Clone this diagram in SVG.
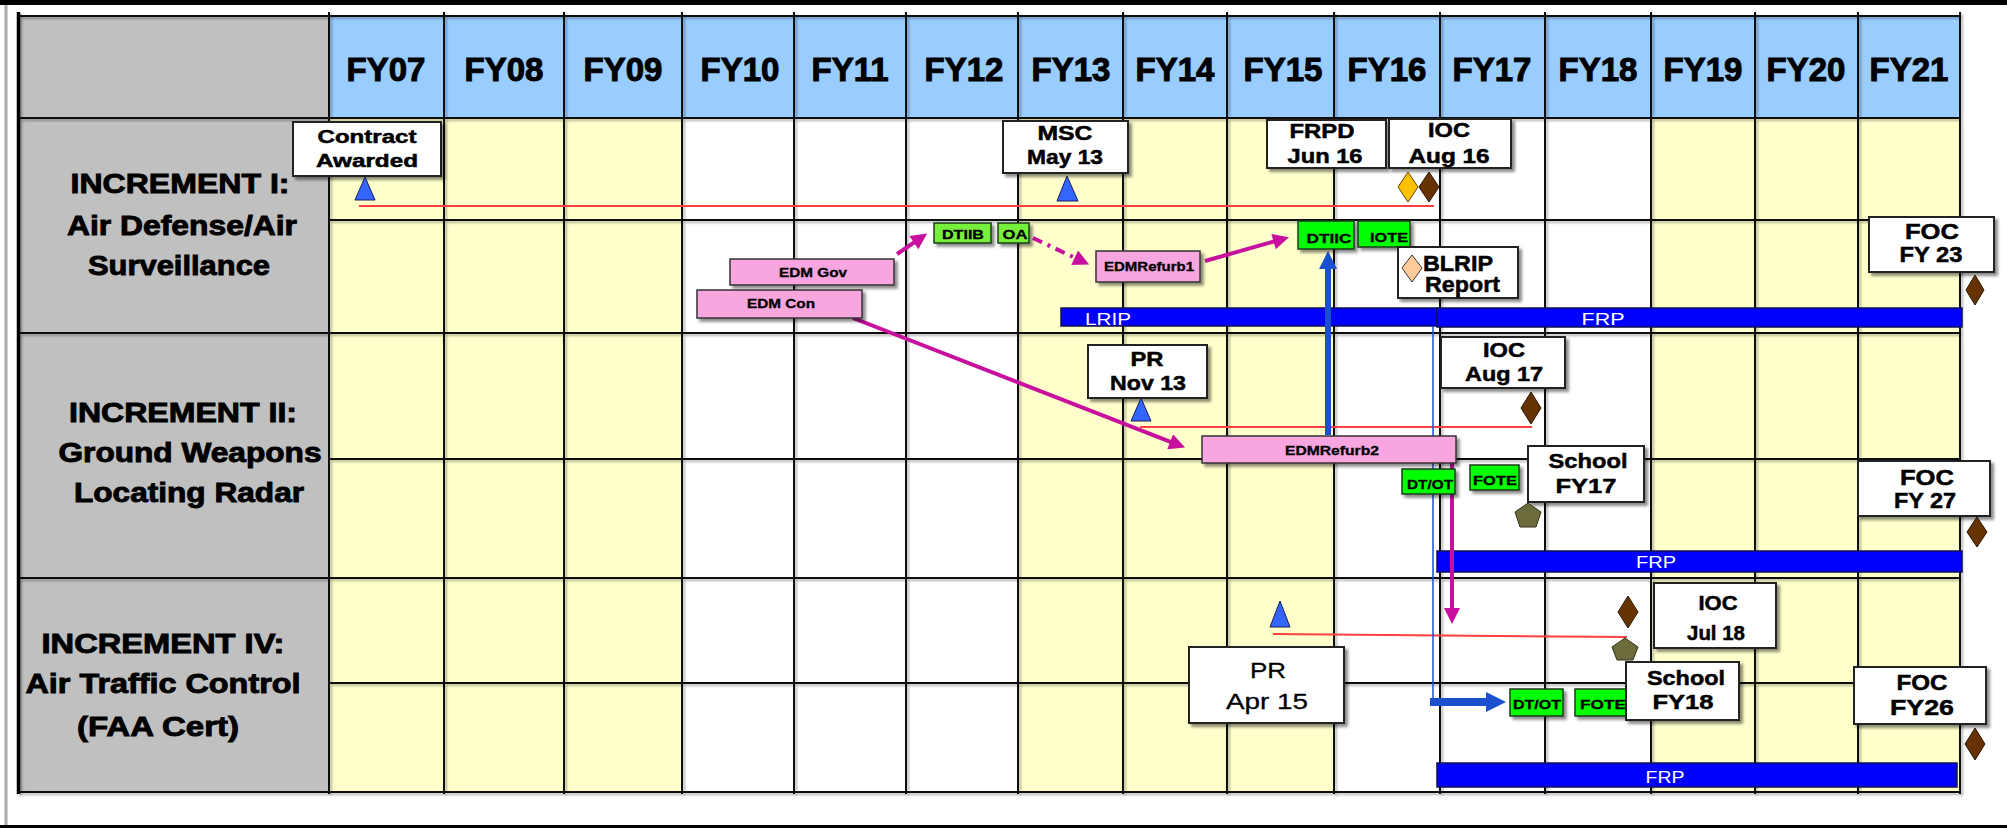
<svg xmlns="http://www.w3.org/2000/svg" width="2007" height="828" viewBox="0 0 2007 828">
  <style>
    text { font-family: "Liberation Sans", Arial, sans-serif; }
    .hdr { font-size: 33px; font-weight: bold; text-anchor: middle; fill: #000; stroke: #000; stroke-width: 1; }
    .inc { font-size: 27px; font-weight: bold; text-anchor: middle; fill: #000; stroke: #000; stroke-width: 0.9; }
    .ms { font-size: 20px; font-weight: bold; text-anchor: middle; fill: #000; stroke: #000; stroke-width: 0.5; }
    .msl { font-size: 22px; font-weight: bold; text-anchor: middle; fill: #000; stroke: #000; stroke-width: 0.5; }
    .msr { font-size: 22px; font-weight: normal; text-anchor: middle; fill: #000; stroke: #000; stroke-width: 0.3; }
    .act { font-size: 13px; font-weight: bold; text-anchor: middle; fill: #000; stroke: #000; stroke-width: 0.3; }
    .bartxt { font-size: 17px; text-anchor: middle; fill: #fff; }
    .box { fill: #fff; stroke: #222; stroke-width: 2; }
    .pink { fill: #F7A6E0; stroke: #333; stroke-width: 1.5; }
    .grn { fill: #00FF00; stroke: #1a3a1a; stroke-width: 1.5; }
    .lgrn { fill: #77F03A; stroke: #1a3a1a; stroke-width: 1.5; }
    .bar { fill: #0000FF; stroke: #101050; stroke-width: 1.5; }
    .tri { fill: #3366FF; stroke: #1a1a60; stroke-width: 1; }
    .dia { fill: #663300; stroke: #2a1500; stroke-width: 1; }
    .pent { fill: #6B6B3B; stroke: #33331a; stroke-width: 1; }
    .red { stroke: #FF4040; stroke-width: 2; fill: none; }
    .gl { stroke: #111; stroke-width: 2; }
    .mag { stroke: #C8109F; stroke-width: 4; fill: none; }
    .blu { stroke: #1A4FCF; fill: none; }
  </style>
  <defs>
    <filter id="shadow" x="-20%" y="-20%" width="150%" height="150%">
      <feDropShadow dx="3" dy="3" stdDeviation="1.5" flood-color="#000" flood-opacity="0.45"/>
    </filter>
    <filter id="lineShadow" x="-5%" y="-5%" width="110%" height="110%">
      <feDropShadow dx="2" dy="2" stdDeviation="1.2" flood-color="#000" flood-opacity="0.3"/>
    </filter>
    <marker id="headMag" viewBox="0 0 10 10" refX="5" refY="5" markerWidth="18" markerHeight="16" markerUnits="userSpaceOnUse" orient="auto">
      <path d="M0,0 L10,5 L0,10 z" fill="#C8109F"/>
    </marker>
    <marker id="headBlue" viewBox="0 0 10 10" refX="5" refY="5" markerWidth="18" markerHeight="18" markerUnits="userSpaceOnUse" orient="auto">
      <path d="M0,0 L10,5 L0,10 z" fill="#1A4FCF"/>
    </marker>
    <marker id="headBlueBig" viewBox="0 0 10 10" refX="5" refY="5" markerWidth="20" markerHeight="24" markerUnits="userSpaceOnUse" orient="auto">
      <path d="M0,0 L10,5 L0,10 z" fill="#1A4FCF"/>
    </marker>
  </defs>

  <!-- page frame -->
  <rect x="0" y="0" width="2007" height="828" fill="#fff"/>
  <rect x="0" y="0" width="2007" height="5" fill="#000"/>
  <rect x="0" y="825" width="2007" height="3" fill="#000"/>
  <line x1="6" y1="5" x2="6" y2="825" stroke="#aaa" stroke-width="3"/>

  <!-- schedule grid -->
  <g id="grid">
    <rect x="18" y="16" width="311" height="776" fill="#C0C0C0"/>
    <rect x="329" y="16" width="1631" height="102" fill="#99CCFF"/>
    <rect x="329" y="118" width="353" height="674" fill="#FFFFCC"/>
    <rect x="1018" y="118" width="316" height="674" fill="#FFFFCC"/>
    <rect x="1651" y="118" width="309" height="674" fill="#FFFFCC"/>
    <g filter="url(#lineShadow)">
      <g class="gl">
        <line x1="329" y1="12" x2="329" y2="794"/>
        <line x1="444" y1="12" x2="444" y2="794"/>
        <line x1="564" y1="12" x2="564" y2="794"/>
        <line x1="682" y1="12" x2="682" y2="794"/>
        <line x1="794" y1="12" x2="794" y2="794"/>
        <line x1="906" y1="12" x2="906" y2="794"/>
        <line x1="1018" y1="12" x2="1018" y2="794"/>
        <line x1="1123" y1="12" x2="1123" y2="794"/>
        <line x1="1227" y1="12" x2="1227" y2="794"/>
        <line x1="1334" y1="12" x2="1334" y2="794"/>
        <line x1="1440" y1="12" x2="1440" y2="794"/>
        <line x1="1545" y1="12" x2="1545" y2="794"/>
        <line x1="1651" y1="12" x2="1651" y2="794"/>
        <line x1="1755" y1="12" x2="1755" y2="794"/>
        <line x1="1858" y1="12" x2="1858" y2="794"/>
        <line x1="1960" y1="12" x2="1960" y2="794"/>
        <line x1="18" y1="16" x2="1960" y2="16"/>
        <line x1="18" y1="118" x2="1960" y2="118"/>
        <line x1="18" y1="333" x2="1960" y2="333"/>
        <line x1="18" y1="578" x2="1960" y2="578"/>
        <line x1="18" y1="792" x2="1960" y2="792"/>
        <line x1="329" y1="220" x2="1960" y2="220"/>
        <line x1="329" y1="459" x2="1960" y2="459"/>
        <line x1="329" y1="683" x2="1960" y2="683"/>
      </g>
      <line x1="18.5" y1="12" x2="18.5" y2="794" stroke="#000" stroke-width="3.5"/>
    </g>
  </g>

  <!-- fiscal year header -->
  <g id="header">
    <text class="hdr" x="386" y="81">FY07</text>
    <text class="hdr" x="504" y="81">FY08</text>
    <text class="hdr" x="623" y="81">FY09</text>
    <text class="hdr" x="740" y="81">FY10</text>
    <text class="hdr" x="850" y="81">FY11</text>
    <text class="hdr" x="964" y="81">FY12</text>
    <text class="hdr" x="1071" y="81">FY13</text>
    <text class="hdr" x="1175" y="81">FY14</text>
    <text class="hdr" x="1283" y="81">FY15</text>
    <text class="hdr" x="1387" y="81">FY16</text>
    <text class="hdr" x="1492" y="81">FY17</text>
    <text class="hdr" x="1598" y="81">FY18</text>
    <text class="hdr" x="1703" y="81">FY19</text>
    <text class="hdr" x="1806" y="81">FY20</text>
    <text class="hdr" x="1909" y="81">FY21</text>
  </g>

  <!-- increment row labels -->
  <g id="inc1-label">
    <text class="inc" x="180" y="193" textLength="219" lengthAdjust="spacingAndGlyphs">INCREMENT I:</text>
    <text class="inc" x="182" y="235" textLength="230" lengthAdjust="spacingAndGlyphs">Air Defense/Air</text>
    <text class="inc" x="179" y="275" textLength="182" lengthAdjust="spacingAndGlyphs">Surveillance</text>
  </g>
  <g id="inc2-label">
    <text class="inc" x="183" y="422" textLength="228" lengthAdjust="spacingAndGlyphs">INCREMENT II:</text>
    <text class="inc" x="190" y="462" textLength="263" lengthAdjust="spacingAndGlyphs">Ground Weapons</text>
    <text class="inc" x="189" y="502" textLength="230" lengthAdjust="spacingAndGlyphs">Locating Radar</text>
  </g>
  <g id="inc4-label">
    <text class="inc" x="163" y="653" textLength="243" lengthAdjust="spacingAndGlyphs">INCREMENT IV:</text>
    <text class="inc" x="163" y="693" textLength="275" lengthAdjust="spacingAndGlyphs">Air Traffic Control</text>
    <text class="inc" x="158" y="736" textLength="162" lengthAdjust="spacingAndGlyphs">(FAA Cert)</text>
  </g>

  <!-- production bars -->
  <g id="lrip-bar">
    <rect class="bar" x="1061" y="308" width="376" height="18"/>
    <text class="bartxt" x="1108" y="325" textLength="46" lengthAdjust="spacingAndGlyphs">LRIP</text>
  </g>
  <g id="frp-bar-1">
    <rect class="bar" x="1437" y="308" width="525" height="19"/>
    <text class="bartxt" x="1603" y="325" textLength="43" lengthAdjust="spacingAndGlyphs">FRP</text>
  </g>
  <g id="frp-bar-2">
    <rect class="bar" x="1437" y="551" width="525" height="21"/>
    <text class="bartxt" x="1656" y="568" textLength="40" lengthAdjust="spacingAndGlyphs">FRP</text>
  </g>
  <g id="frp-bar-4">
    <rect class="bar" x="1437" y="763" width="520" height="24"/>
    <text class="bartxt" x="1665" y="783" textLength="39" lengthAdjust="spacingAndGlyphs">FRP</text>
  </g>

  <!-- schedule baselines -->
  <g id="baselines">
    <line class="red" x1="359" y1="206" x2="1434" y2="206"/>
    <line class="red" x1="1140" y1="427" x2="1532" y2="427"/>
    <line class="red" x1="1273" y1="634" x2="1627" y2="637"/>
  </g>

  <!-- connectors -->
  <g id="connectors">
    <line class="mag" x1="897" y1="254" x2="920.5" y2="238.1" marker-end="url(#headMag)"/>
    <line class="mag" x1="1033" y1="238" x2="1081.9" y2="261.1" stroke-dasharray="10 6 3 6" stroke-width="3.5" marker-end="url(#headMag)"/>
    <line class="mag" x1="1205" y1="261" x2="1281.3" y2="239.4" stroke-width="5" marker-end="url(#headMag)"/>
    <line class="mag" x1="853" y1="318" x2="1177.6" y2="444.7" marker-end="url(#headMag)"/>
    <line class="mag" x1="1452" y1="463" x2="1452" y2="616" stroke-width="6" marker-end="url(#headMag)"/>
    <line class="blu" x1="1328" y1="435" x2="1328" y2="260" stroke-width="6" marker-end="url(#headBlue)"/>
    <line class="blu" x1="1433" y1="326" x2="1433" y2="702" stroke-width="1.5"/>
    <line class="blu" x1="1430" y1="702" x2="1496" y2="702" stroke-width="8" marker-end="url(#headBlueBig)"/>
  </g>

  <!-- Increment I nodes -->
  <g id="contract-awarded">
    <rect class="box" x="293" y="122" width="148" height="54" filter="url(#shadow)"/>
    <text class="ms" x="367" y="143" style="font-size:18px" textLength="99" lengthAdjust="spacingAndGlyphs">Contract</text>
    <text class="ms" x="367" y="167" style="font-size:18px" textLength="102" lengthAdjust="spacingAndGlyphs">Awarded</text>
    <polygon class="tri" points="365,177 355,200 375,200"/>
  </g>
  <g id="msc">
    <rect class="box" x="1003" y="121" width="125" height="52" filter="url(#shadow)"/>
    <text class="ms" x="1065" y="140" textLength="55" lengthAdjust="spacingAndGlyphs">MSC</text>
    <text class="ms" x="1065" y="164" textLength="76" lengthAdjust="spacingAndGlyphs">May 13</text>
    <polygon class="tri" points="1067,176 1057,201 1078,201"/>
  </g>
  <g id="frpd">
    <rect class="box" x="1267" y="120" width="119" height="48" filter="url(#shadow)"/>
    <text class="ms" x="1322" y="138" textLength="65" lengthAdjust="spacingAndGlyphs">FRPD</text>
    <text class="ms" x="1325" y="163" textLength="75" lengthAdjust="spacingAndGlyphs">Jun 16</text>
  </g>
  <g id="ioc-aug16">
    <rect class="box" x="1389" y="119" width="122" height="49" filter="url(#shadow)"/>
    <text class="ms" x="1449" y="137" textLength="42" lengthAdjust="spacingAndGlyphs">IOC</text>
    <text class="ms" x="1449" y="163" textLength="81" lengthAdjust="spacingAndGlyphs">Aug 16</text>
    <polygon points="1408,172 1418,187 1408,202 1398,187" fill="#FFC000" stroke="#5a4000" stroke-width="1"/>
    <polygon class="dia" points="1429,172 1439,187 1429,202 1419,187"/>
  </g>
  <g id="edm-gov">
    <rect class="pink" x="730" y="259" width="164" height="26" filter="url(#shadow)"/>
    <text class="act" x="813" y="277" style="font-size:12px" textLength="68" lengthAdjust="spacingAndGlyphs">EDM Gov</text>
  </g>
  <g id="edm-con">
    <rect class="pink" x="697" y="290" width="165" height="28" filter="url(#shadow)"/>
    <text class="act" x="781" y="308" style="font-size:12px" textLength="68" lengthAdjust="spacingAndGlyphs">EDM Con</text>
  </g>
  <g id="dt-iib">
    <rect class="lgrn" x="934" y="223" width="57" height="20" filter="url(#shadow)"/>
    <text class="act" x="963" y="239" textLength="42" lengthAdjust="spacingAndGlyphs">DTIIB</text>
  </g>
  <g id="oa">
    <rect class="lgrn" x="998" y="223" width="31" height="20" filter="url(#shadow)"/>
    <text class="act" x="1015" y="239" textLength="25" lengthAdjust="spacingAndGlyphs">OA</text>
  </g>
  <g id="edm-refurb1">
    <rect class="pink" x="1096" y="251" width="104" height="31" filter="url(#shadow)"/>
    <text class="act" x="1149" y="271" style="font-size:12px" textLength="90" lengthAdjust="spacingAndGlyphs">EDMRefurb1</text>
  </g>
  <g id="dt-iic">
    <rect class="grn" x="1298" y="221" width="56" height="28" filter="url(#shadow)"/>
    <text class="act" x="1329" y="243" textLength="45" lengthAdjust="spacingAndGlyphs">DTIIC</text>
  </g>
  <g id="iote">
    <rect class="grn" x="1358" y="221" width="52" height="26" filter="url(#shadow)"/>
    <text class="act" x="1389" y="242" textLength="38" lengthAdjust="spacingAndGlyphs">IOTE</text>
  </g>
  <g id="blrip-report">
    <rect class="box" x="1398" y="247" width="120" height="51" filter="url(#shadow)"/>
    <polygon points="1412,255 1422,268 1412,282 1402,268" fill="#FFCC99" stroke="#333" stroke-width="1"/>
    <text class="msl" x="1423" y="271" style="text-anchor:start" textLength="70" lengthAdjust="spacingAndGlyphs">BLRIP</text>
    <text class="msl" x="1425" y="292" style="text-anchor:start" textLength="75" lengthAdjust="spacingAndGlyphs">Report</text>
  </g>
  <g id="foc-fy23">
    <rect class="box" x="1869" y="217" width="125" height="55" filter="url(#shadow)"/>
    <text class="msl" x="1932" y="239" textLength="54" lengthAdjust="spacingAndGlyphs">FOC</text>
    <text class="msl" x="1931" y="262" textLength="63" lengthAdjust="spacingAndGlyphs">FY 23</text>
    <polygon class="dia" points="1975,275 1984,290 1975,305 1966,290"/>
  </g>

  <!-- Increment II nodes -->
  <g id="pr-nov13">
    <rect class="box" x="1088" y="345" width="119" height="53" filter="url(#shadow)"/>
    <text class="ms" x="1147" y="366" textLength="33" lengthAdjust="spacingAndGlyphs">PR</text>
    <text class="ms" x="1148" y="390" textLength="76" lengthAdjust="spacingAndGlyphs">Nov 13</text>
    <polygon class="tri" points="1141,398 1131,421 1151,421"/>
  </g>
  <g id="edm-refurb2">
    <rect class="pink" x="1202" y="436" width="254" height="27" filter="url(#shadow)"/>
    <text class="act" x="1332" y="455" style="font-size:12px" textLength="94" lengthAdjust="spacingAndGlyphs">EDMRefurb2</text>
  </g>
  <g id="ioc-aug17">
    <rect class="box" x="1441" y="337" width="124" height="51" filter="url(#shadow)"/>
    <text class="ms" x="1504" y="357" textLength="42" lengthAdjust="spacingAndGlyphs">IOC</text>
    <text class="ms" x="1504" y="381" textLength="78" lengthAdjust="spacingAndGlyphs">Aug 17</text>
    <polygon class="dia" points="1531,392 1541,408 1531,424 1521,408"/>
  </g>
  <g id="dt-ot-2">
    <rect class="grn" x="1402" y="469" width="53" height="25" filter="url(#shadow)"/>
    <text class="act" x="1430" y="489" textLength="46" lengthAdjust="spacingAndGlyphs">DT/OT</text>
  </g>
  <g id="fote-2">
    <rect class="grn" x="1470" y="465" width="49" height="25" filter="url(#shadow)"/>
    <text class="act" x="1495" y="485" textLength="44" lengthAdjust="spacingAndGlyphs">FOTE</text>
  </g>
  <g id="school-fy17">
    <rect class="box" x="1528" y="446" width="116" height="56" filter="url(#shadow)"/>
    <text class="ms" x="1588" y="468" style="font-size:21px" textLength="79" lengthAdjust="spacingAndGlyphs">School</text>
    <text class="ms" x="1586" y="493" style="font-size:21px" textLength="61" lengthAdjust="spacingAndGlyphs">FY17</text>
    <polygon class="pent" points="1528,503 1541,512 1536,527 1520,527 1515,512"/>
  </g>
  <g id="foc-fy27">
    <rect class="box" x="1858" y="461" width="132" height="55" filter="url(#shadow)"/>
    <text class="msl" x="1927" y="485" textLength="54" lengthAdjust="spacingAndGlyphs">FOC</text>
    <text class="msl" x="1925" y="508" textLength="62" lengthAdjust="spacingAndGlyphs">FY 27</text>
    <polygon class="dia" points="1977,517 1987,532 1977,547 1967,532"/>
  </g>

  <!-- Increment IV nodes -->
  <g id="pr-apr15">
    <polygon class="tri" points="1280,601 1270,627 1290,627"/>
    <rect class="box" x="1189" y="647" width="155" height="76" filter="url(#shadow)"/>
    <text class="msr" x="1268" y="678" textLength="36" lengthAdjust="spacingAndGlyphs">PR</text>
    <text class="msr" x="1267" y="709" textLength="82" lengthAdjust="spacingAndGlyphs">Apr 15</text>
  </g>
  <g id="ioc-jul18">
    <polygon class="dia" points="1628,596 1638,612 1628,628 1618,612"/>
    <rect class="box" x="1654" y="583" width="122" height="65" filter="url(#shadow)"/>
    <text class="ms" x="1718" y="610" textLength="39" lengthAdjust="spacingAndGlyphs">IOC</text>
    <text class="ms" x="1716" y="640" textLength="58" lengthAdjust="spacingAndGlyphs">Jul 18</text>
  </g>
  <g id="dt-ot-4">
    <rect class="grn" x="1510" y="689" width="53" height="27" filter="url(#shadow)"/>
    <text class="act" x="1537" y="709" textLength="48" lengthAdjust="spacingAndGlyphs">DT/OT</text>
  </g>
  <g id="fote-4">
    <rect class="grn" x="1575" y="689" width="53" height="27" filter="url(#shadow)"/>
    <text class="act" x="1603" y="709" textLength="46" lengthAdjust="spacingAndGlyphs">FOTE</text>
  </g>
  <g id="school-fy18">
    <polygon class="pent" points="1625,638 1638,647 1633,660 1617,660 1612,647"/>
    <rect class="box" x="1626" y="662" width="113" height="58" filter="url(#shadow)"/>
    <text class="ms" x="1686" y="685" style="font-size:21px" textLength="78" lengthAdjust="spacingAndGlyphs">School</text>
    <text class="ms" x="1683" y="709" style="font-size:21px" textLength="61" lengthAdjust="spacingAndGlyphs">FY18</text>
  </g>
  <g id="foc-fy26">
    <rect class="box" x="1854" y="667" width="132" height="57" filter="url(#shadow)"/>
    <text class="msl" x="1922" y="690" textLength="51" lengthAdjust="spacingAndGlyphs">FOC</text>
    <text class="msl" x="1922" y="715" textLength="64" lengthAdjust="spacingAndGlyphs">FY26</text>
    <polygon class="dia" points="1975,728 1985,744 1975,760 1965,744"/>
  </g>
</svg>
